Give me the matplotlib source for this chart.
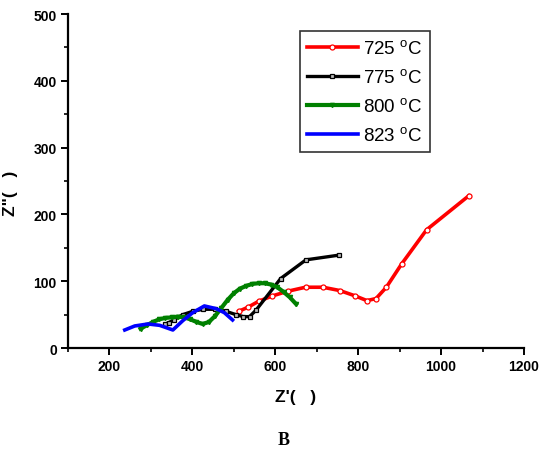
import matplotlib
matplotlib.use("Agg")
import matplotlib.pyplot as plt
from matplotlib.ticker import MultipleLocator

plt.rcParams['font.family'] = ['Liberation Sans', 'DejaVu Sans']
plt.rcParams['mathtext.fontset'] = 'custom'
plt.rcParams['mathtext.rm'] = 'Liberation Sans'

x725 = [512, 534, 560, 593, 630, 673, 715, 756, 793, 821, 843, 868, 905, 965, 1067]
y725 = [55, 61, 70, 78, 85, 91, 91, 86, 78, 71, 74, 91, 126, 177, 228]

x775 = [335, 343, 355, 377, 401, 426, 455, 481, 505, 523, 538, 554, 613, 674, 753]
y775 = [36, 38, 42, 50, 55, 58, 58, 55, 50, 47, 47, 57, 104, 132, 139]

x800 = [275, 290, 305, 320, 335, 350, 365, 380, 395, 410, 425, 440, 455, 470, 485,
        500, 515, 530, 545, 560, 575, 590, 605, 620, 635, 650]
y800 = [29, 34, 39, 43, 45, 46, 47, 46, 43, 39, 36, 39, 48, 60, 72,
        82, 89, 93, 96, 97, 97, 95, 91, 84, 76, 66]

x823 = [237, 261, 293, 321, 353, 377, 401, 429, 457, 477, 497]
y823 = [27, 33, 36, 34, 27, 41, 53, 63, 59, 53, 42]

labels = ['725 $^{\\mathrm{o}}$C', '775 $^{\\mathrm{o}}$C', '800 $^{\\mathrm{o}}$C', '823 $^{\\mathrm{o}}$C']

fig = plt.figure(figsize=(5.5, 4.56), dpi=100)
ax = fig.add_axes([0.1236, 0.2346, 0.8291, 0.7324])

ax.plot(x725, y725, color='#ff0000', lw=2.6, marker='o', ms=3.6, mfc='white',
        mec='#ff0000', mew=0.9, label=labels[0], zorder=3)
ax.plot(x775, y775, color='black', lw=2.4, marker='s', ms=3.4, mfc='#bbbbbb',
        mec='black', mew=0.9, label=labels[1], zorder=3)
ax.plot(x800, y800, color='#008000', lw=3.0, marker='v', ms=3.0, mfc='#008000',
        mec='#008000', label=labels[2], zorder=3)
ax.plot(x823, y823, color='#0000ff', lw=2.6, label=labels[3], zorder=3)

ax.set_xlim(100, 1200)
ax.set_ylim(0, 500)
ax.xaxis.set_major_locator(MultipleLocator(200))
ax.xaxis.set_minor_locator(MultipleLocator(100))
ax.yaxis.set_major_locator(MultipleLocator(100))
ax.yaxis.set_minor_locator(MultipleLocator(50))

for s in ['top', 'right']:
    ax.spines[s].set_visible(False)
for s in ['left', 'bottom']:
    ax.spines[s].set_linewidth(1.6)

ax.tick_params(which='major', direction='out', length=5, width=1.4, labelsize=10, pad=3)
ax.tick_params(which='minor', direction='out', length=3, width=1.2)
for lab in ax.get_xticklabels() + ax.get_yticklabels():
    lab.set_fontweight('bold')

fig.text(0.538, 0.128, "Z'(   )", ha='center', va='center', fontsize=12.5, fontweight='bold')
fig.text(0.02, 0.577, 'Z"(   )', ha='center', va='center', fontsize=12.5, fontweight='bold', rotation=90)
fig.text(0.515, 0.033, 'B', ha='center', va='center', fontsize=13, fontweight='bold',
         family='Liberation Serif')

leg = ax.legend(loc='upper left', bbox_to_anchor=(0.508, 0.948), frameon=True, fancybox=False,
                edgecolor='black', fontsize=13.5, handlelength=2.7, numpoints=1,
                borderpad=0.4, labelspacing=0.55, handletextpad=0.3, borderaxespad=0)
leg.get_frame().set_linewidth(1.2)

fig.savefig('out.png', dpi=100)
